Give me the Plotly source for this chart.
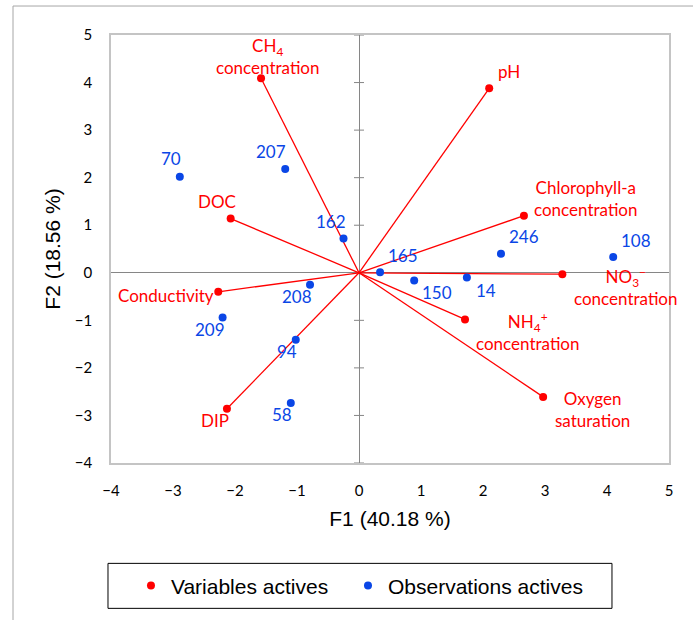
import plotly.graph_objects as go

# ---- data ----
var_names = ["CH<sub>4</sub><br>concentration", "DOC", "pH",
             "Chlorophyll-a<br>concentration",
             "NO<sub>3</sub><sup>−</sup><br>concentration",
             "NH<sub>4</sub><sup>+</sup><br>concentration",
             "Oxygen<br>saturation", "Conductivity", "DIP"]
var_f1 = [-1.58, -2.07, 2.10, 2.66, 3.28, 1.71, 2.97, -2.27, -2.13]
var_f2 = [4.09, 1.14, 3.88, 1.20, -0.03, -0.98, -2.61, -0.40, -2.86]

obs_names = ["70", "207", "162", "165", "246", "108", "150", "14", "208", "209", "94", "58"]
obs_f1 = [-2.89, -1.19, -0.25, 0.34, 2.29, 4.10, 0.89, 1.74, -0.79, -2.20, -1.02, -1.10]
obs_f2 = [2.02, 2.18, 0.72, 0.01, 0.40, 0.33, -0.16, -0.10, -0.25, -0.94, -1.41, -2.74]

tick_vals = [-4, -3, -2, -1, 0, 1, 2, 3, 4, 5]

# ---- label placement (pixel offsets) ----
var_off = [(6, 22, "center"), (-14, 17, "center"), (20, 17, "center"), (62, 17, "center"),
           (63, -12, "center"), (62, -12, "center"), (49, -13, "center"), (-2, -4, "right"),
           (-12, -12, "center")]
obs_off = [(-9, 18), (-14, 18), (-13, 17), (23, 17), (23, 17), (23, 17), (23, -12),
           (19, -13), (-13, -12), (-13, -12), (-9, -12), (-9, -11)]

RED = "#ff0000"
BLUE = "#0a46e6"
LABEL_FONT = "Lato, Carlito, Calibri, sans-serif"
AXIS_FONT = "Liberation Sans, Arial, sans-serif"

fig = go.Figure()

# vectors from origin
vx, vy = [], []
for a, b in zip(var_f1, var_f2):
    vx += [0, a, None]
    vy += [0, b, None]
fig.add_trace(go.Scatter(x=vx, y=vy, mode="lines", line=dict(color=RED, width=1.3),
                         showlegend=False, hoverinfo="skip"))

fig.add_trace(go.Scatter(x=var_f1, y=var_f2, mode="markers", name="Variables actives",
                         marker=dict(color=RED, size=8), legend="legend"))
fig.add_trace(go.Scatter(x=obs_f1, y=obs_f2, mode="markers", name="Observations actives",
                         marker=dict(color=BLUE, size=8), legend="legend2"))

for name, a, b, (dx, dy, anc) in zip(var_names, var_f1, var_f2, var_off):
    fig.add_annotation(x=a, y=b, text=name, showarrow=False, xshift=dx, yshift=dy,
                       xanchor=anc, yanchor="middle",
                       font=dict(color=RED, size=17, family=LABEL_FONT))
for name, a, b, (dx, dy) in zip(obs_names, obs_f1, obs_f2, obs_off):
    fig.add_annotation(x=a, y=b, text=name, showarrow=False, xshift=dx, yshift=dy,
                       xanchor="center", yanchor="middle",
                       font=dict(color=BLUE, size=17, family=LABEL_FONT))

# tick marks crossing the vertical axis line
for t in tick_vals:
    fig.add_shape(type="line", xref="x", yref="y", xsizemode="pixel", xanchor=0,
                  x0=-5, x1=5, y0=t, y1=t, line=dict(color="#868686", width=1), layer="below")

# legend box and outer chart border
fig.add_shape(type="rect", xref="paper", yref="paper", x0=-0.0054, x1=0.8978,
              y0=-0.3396, y1=-0.2345, line=dict(color="black", width=1))
fig.add_shape(type="rect", xref="paper", yref="paper", x0=-0.1756, x1=1.2,
              y0=-0.5, y1=1.0677, line=dict(color="#a6a6a6", width=1))

axis_common = dict(range=[-4, 5], tickvals=tick_vals, showgrid=False,
                   zeroline=True, zerolinecolor="#868686", zerolinewidth=1,
                   showline=True, mirror=True, linecolor="#c4c4c4", linewidth=1.5,
                   ticks="", tickfont=dict(size=15, color="black", family=LABEL_FONT),
                   ticklabeloverflow="allow",
                   automargin=False, fixedrange=True)

fig.update_xaxes(**axis_common, ticklabelstandoff=13,
                 title=dict(text="F1 (40.18 %)", standoff=14,
                            font=dict(size=21, color="black", family=AXIS_FONT)))
fig.update_yaxes(**axis_common, ticklabelstandoff=14,
                 title=dict(text="F2 (18.56 %)", standoff=8,
                            font=dict(size=21, color="black", family=AXIS_FONT)))

legend_common = dict(orientation="h", xanchor="left", y=-0.287, yanchor="middle",
                     font=dict(size=21, color="black", family=AXIS_FONT),
                     bgcolor="rgba(0,0,0,0)", borderwidth=0)

fig.update_layout(
    width=693, height=620,
    margin=dict(l=111, r=24, t=35, b=156.5),
    plot_bgcolor="white", paper_bgcolor="white",
    legend=dict(**legend_common, x=0.0358),
    legend2=dict(**legend_common, x=0.4247),
)

fig.write_html("out.html")
